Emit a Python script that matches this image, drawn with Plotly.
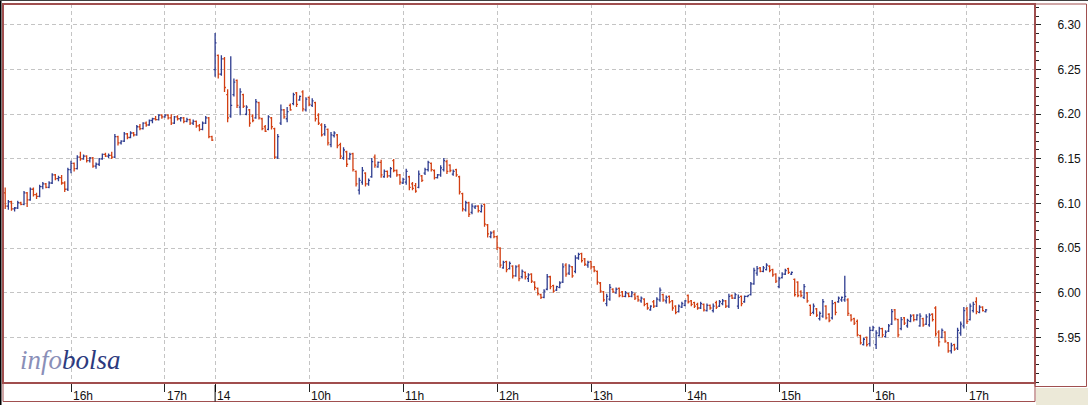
import plotly.graph_objects as go

# Two sessions of 2-minute bars: the tail of the 13th and the 14th (9:00 - 17:12)
BAR_MINUTES = 2

day1_start = "15:18"
day1_open = [6.112, 6.097, 6.102, 6.094, 6.095, 6.101, 6.099, 6.112, 6.104, 6.116,
             6.110, 6.108, 6.119, 6.122, 6.118, 6.123, 6.132, 6.128, 6.129, 6.123,
             6.116, 6.138, 6.145, 6.139, 6.152, 6.150, 6.153, 6.148, 6.151, 6.142,
             6.144, 6.150, 6.155, 6.153, 6.154, 6.152, 6.175, 6.168, 6.170, 6.178,
             6.174, 6.179, 6.177, 6.186, 6.184, 6.190, 6.188, 6.193, 6.195, 6.194,
             6.199, 6.197, 6.199, 6.196, 6.190, 6.197, 6.195, 6.196, 6.192, 6.194,
             6.190, 6.192, 6.187, 6.183, 6.190, 6.196, 6.175]
day1_high = [6.118, 6.104, 6.103, 6.096, 6.103, 6.102, 6.114, 6.113, 6.118, 6.118,
             6.112, 6.121, 6.124, 6.123, 6.125, 6.134, 6.133, 6.131, 6.132, 6.125,
             6.140, 6.148, 6.146, 6.154, 6.158, 6.155, 6.154, 6.152, 6.152, 6.146,
             6.151, 6.156, 6.157, 6.156, 6.158, 6.178, 6.176, 6.171, 6.180, 6.179,
             6.181, 6.180, 6.188, 6.189, 6.191, 6.192, 6.194, 6.196, 6.198, 6.200,
             6.200, 6.200, 6.200, 6.200, 6.198, 6.199, 6.197, 6.197, 6.196, 6.195,
             6.194, 6.193, 6.189, 6.192, 6.198, 6.197, 6.176]
day1_low = [6.094, 6.093, 6.092, 6.091, 6.094, 6.098, 6.098, 6.096, 6.103, 6.108,
            6.105, 6.107, 6.116, 6.117, 6.117, 6.122, 6.126, 6.125, 6.121, 6.113,
            6.114, 6.134, 6.136, 6.138, 6.148, 6.149, 6.146, 6.146, 6.140, 6.139,
            6.142, 6.149, 6.152, 6.151, 6.150, 6.151, 6.165, 6.166, 6.169, 6.172,
            6.173, 6.175, 6.176, 6.182, 6.183, 6.186, 6.187, 6.190, 6.193, 6.193,
            6.195, 6.196, 6.194, 6.188, 6.189, 6.193, 6.192, 6.190, 6.191, 6.188,
            6.188, 6.185, 6.181, 6.182, 6.189, 6.173, 6.170]
day1_close = [6.097, 6.102, 6.094, 6.095, 6.101, 6.099, 6.112, 6.104, 6.116, 6.110,
              6.108, 6.119, 6.122, 6.118, 6.123, 6.132, 6.128, 6.129, 6.123, 6.116,
              6.138, 6.145, 6.139, 6.152, 6.150, 6.153, 6.148, 6.151, 6.142, 6.144,
              6.150, 6.155, 6.153, 6.154, 6.152, 6.175, 6.168, 6.170, 6.178, 6.174,
              6.179, 6.177, 6.186, 6.184, 6.190, 6.188, 6.193, 6.195, 6.194, 6.199,
              6.197, 6.199, 6.196, 6.190, 6.197, 6.195, 6.196, 6.192, 6.194, 6.190,
              6.192, 6.187, 6.183, 6.190, 6.196, 6.175, 6.171]

day2_start = "09:00"
day2_open = [6.250, 6.266, 6.245, 6.262, 6.222, 6.198, 6.222, 6.238, 6.208, 6.222,
             6.200, 6.205, 6.198, 6.196, 6.213, 6.195, 6.186, 6.183, 6.196, 6.184,
             6.152, 6.190, 6.205, 6.195, 6.210, 6.212, 6.224, 6.216, 6.225, 6.205,
             6.219, 6.210, 6.213, 6.199, 6.188, 6.178, 6.183, 6.166, 6.176, 6.177,
             6.166, 6.151, 6.158, 6.150, 6.156, 6.136, 6.115, 6.124, 6.134, 6.122,
             6.130, 6.152, 6.141, 6.146, 6.130, 6.136, 6.131, 6.148, 6.137, 6.132,
             6.123, 6.124, 6.130, 6.122, 6.120, 6.118, 6.131, 6.134, 6.138, 6.145,
             6.137, 6.129, 6.132, 6.138, 6.147, 6.143, 6.133, 6.138, 6.130, 6.111,
             6.093, 6.101, 6.090, 6.096, 6.097, 6.091, 6.099, 6.076, 6.063, 6.068,
             6.063, 6.050, 6.028, 6.035, 6.027, 6.030, 6.019, 6.030, 6.018, 6.023,
             6.016, 6.021, 6.012, 6.005, 5.998, 5.995, 6.004, 6.018, 6.008, 6.003,
             6.006, 6.012, 6.031, 6.022, 6.029, 6.024, 6.039, 6.044, 6.038, 6.031,
             6.035, 6.029, 6.024, 6.011, 6.001, 5.988, 5.993, 6.004, 6.000, 6.005,
             6.001, 5.996, 5.999, 5.996, 5.998, 5.996, 5.991, 5.993, 5.988, 5.981,
             5.990, 5.985, 5.992, 5.998, 5.991, 5.996, 5.991, 5.985, 5.979, 5.984,
             5.986, 5.997, 5.991, 5.989, 5.987, 5.983, 5.987, 5.980, 5.986, 5.980,
             5.989, 5.985, 5.988, 5.991, 5.985, 5.997, 5.994, 5.985, 5.996, 5.990,
             5.996, 5.998, 6.010, 6.022, 6.028, 6.024, 6.026, 6.030, 6.026, 6.021,
             6.007, 6.017, 6.021, 6.027, 6.021, 6.015, 6.012, 6.001, 5.995, 6.000,
             5.986, 5.978, 5.982, 5.971, 5.974, 5.985, 5.976, 5.972, 5.989, 5.990,
             5.992, 5.992, 5.992, 5.975, 5.971, 5.968, 5.952, 5.942, 5.950, 5.943,
             5.958, 5.942, 5.952, 5.960, 5.951, 5.957, 5.965, 5.981, 5.970, 5.960,
             5.972, 5.963, 5.968, 5.975, 5.970, 5.963, 5.971, 5.965, 5.964, 5.976,
             5.983, 5.956, 5.950, 5.956, 5.944, 5.935, 5.942, 5.938, 5.955, 5.963,
             5.982, 5.970, 5.980, 5.990, 5.978, 5.984, 5.979]
day2_high = [6.291, 6.267, 6.266, 6.264, 6.228, 6.265, 6.240, 6.239, 6.229, 6.223,
             6.210, 6.206, 6.200, 6.217, 6.214, 6.196, 6.188, 6.199, 6.197, 6.185,
             6.178, 6.211, 6.206, 6.208, 6.212, 6.224, 6.225, 6.221, 6.227, 6.219,
             6.220, 6.218, 6.214, 6.201, 6.190, 6.189, 6.184, 6.180, 6.181, 6.178,
             6.168, 6.163, 6.159, 6.157, 6.157, 6.137, 6.129, 6.141, 6.135, 6.128,
             6.151, 6.155, 6.147, 6.149, 6.138, 6.137, 6.141, 6.150, 6.138, 6.133,
             6.129, 6.139, 6.131, 6.124, 6.123, 6.137, 6.132, 6.140, 6.148, 6.146,
             6.138, 6.133, 6.143, 6.151, 6.149, 6.144, 6.138, 6.139, 6.131, 6.112,
             6.103, 6.102, 6.100, 6.098, 6.098, 6.099, 6.100, 6.077, 6.069, 6.070,
             6.064, 6.051, 6.036, 6.036, 6.035, 6.031, 6.031, 6.032, 6.026, 6.024,
             6.022, 6.022, 6.013, 6.006, 5.999, 6.004, 6.021, 6.019, 6.009, 6.008,
             6.013, 6.033, 6.033, 6.032, 6.030, 6.042, 6.045, 6.045, 6.039, 6.036,
             6.036, 6.030, 6.025, 6.012, 6.002, 5.999, 6.010, 6.005, 6.006, 6.006,
             6.002, 6.002, 6.000, 6.002, 6.000, 5.997, 5.996, 5.994, 5.989, 5.986,
             5.992, 5.995, 6.006, 5.999, 5.997, 5.997, 5.992, 5.986, 5.987, 5.990,
             5.992, 5.998, 5.992, 5.990, 5.989, 5.990, 5.988, 5.988, 5.987, 5.988,
             5.991, 5.992, 5.993, 5.992, 5.999, 5.998, 6.000, 5.998, 5.997, 5.997,
             5.997, 6.012, 6.028, 6.030, 6.029, 6.030, 6.033, 6.031, 6.027, 6.022,
             6.018, 6.023, 6.027, 6.028, 6.024, 6.016, 6.013, 6.003, 6.010, 6.001,
             5.987, 5.988, 5.983, 5.979, 5.993, 5.986, 5.977, 5.992, 5.990, 5.996,
             5.996, 6.019, 5.994, 5.976, 5.972, 5.970, 5.953, 5.950, 5.951, 5.962,
             5.963, 5.958, 5.962, 5.961, 5.958, 5.965, 5.982, 5.982, 5.971, 5.973,
             5.973, 5.971, 5.976, 5.976, 5.976, 5.977, 5.972, 5.976, 5.977, 5.977,
             5.985, 5.958, 5.960, 5.957, 5.945, 5.944, 5.943, 5.961, 5.968, 5.984,
             5.984, 5.988, 5.990, 5.995, 5.986, 5.985, 5.982]
day2_low = [6.242, 6.240, 6.243, 6.225, 6.191, 6.196, 6.220, 6.207, 6.199, 6.207,
            6.199, 6.186, 6.191, 6.195, 6.194, 6.182, 6.180, 6.182, 6.183, 6.150,
            6.150, 6.188, 6.195, 6.191, 6.204, 6.210, 6.208, 6.215, 6.203, 6.203,
            6.209, 6.208, 6.192, 6.188, 6.175, 6.176, 6.165, 6.163, 6.174, 6.162,
            6.150, 6.149, 6.141, 6.149, 6.136, 6.119, 6.110, 6.121, 6.119, 6.120,
            6.129, 6.140, 6.140, 6.129, 6.129, 6.129, 6.129, 6.135, 6.130, 6.121,
            6.122, 6.121, 6.115, 6.115, 6.112, 6.117, 6.124, 6.132, 6.136, 6.136,
            6.127, 6.128, 6.130, 6.136, 6.133, 6.135, 6.131, 6.130, 6.110, 6.091,
            6.091, 6.085, 6.088, 6.094, 6.090, 6.090, 6.074, 6.062, 6.061, 6.061,
            6.048, 6.028, 6.027, 6.023, 6.026, 6.016, 6.018, 6.013, 6.016, 6.015,
            6.012, 6.011, 6.003, 5.997, 5.993, 5.994, 6.003, 6.004, 6.000, 6.002,
            6.005, 6.011, 6.018, 6.020, 6.017, 6.022, 6.037, 6.034, 6.030, 6.028,
            6.026, 6.023, 6.009, 6.000, 5.990, 5.985, 5.991, 6.000, 5.999, 5.995,
            5.995, 5.995, 5.995, 5.995, 5.992, 5.990, 5.989, 5.985, 5.981, 5.980,
            5.983, 5.984, 5.990, 5.990, 5.988, 5.988, 5.980, 5.976, 5.978, 5.983,
            5.985, 5.988, 5.985, 5.983, 5.981, 5.982, 5.979, 5.979, 5.981, 5.978,
            5.982, 5.984, 5.986, 5.983, 5.983, 5.993, 5.993, 5.982, 5.985, 5.989,
            5.995, 5.997, 6.009, 6.019, 6.023, 6.023, 6.025, 6.023, 6.018, 6.011,
            6.005, 6.016, 6.020, 6.021, 6.020, 5.996, 5.995, 5.995, 5.993, 5.989,
            5.974, 5.976, 5.973, 5.969, 5.972, 5.970, 5.967, 5.970, 5.975, 5.989,
            5.990, 5.990, 5.974, 5.968, 5.964, 5.951, 5.942, 5.941, 5.940, 5.940,
            5.957, 5.937, 5.951, 5.950, 5.950, 5.956, 5.964, 5.969, 5.950, 5.958,
            5.964, 5.961, 5.967, 5.968, 5.969, 5.962, 5.962, 5.964, 5.962, 5.968,
            5.951, 5.940, 5.949, 5.944, 5.933, 5.932, 5.935, 5.936, 5.952, 5.960,
            5.965, 5.969, 5.978, 5.976, 5.977, 5.979, 5.978]
day2_close = [6.280, 6.245, 6.262, 6.230, 6.196, 6.210, 6.236, 6.210, 6.225, 6.209,
              6.208, 6.190, 6.193, 6.214, 6.196, 6.184, 6.181, 6.197, 6.186, 6.152,
              6.175, 6.205, 6.197, 6.203, 6.205, 6.222, 6.211, 6.220, 6.206, 6.217,
              6.211, 6.215, 6.195, 6.190, 6.177, 6.186, 6.168, 6.177, 6.179, 6.165,
              6.153, 6.160, 6.144, 6.155, 6.138, 6.122, 6.126, 6.137, 6.122, 6.126,
              6.147, 6.143, 6.146, 6.132, 6.136, 6.131, 6.139, 6.137, 6.132, 6.124,
              6.127, 6.136, 6.118, 6.117, 6.114, 6.133, 6.126, 6.138, 6.146, 6.138,
              6.129, 6.132, 6.140, 6.148, 6.136, 6.137, 6.136, 6.132, 6.113, 6.094,
              6.101, 6.088, 6.097, 6.097, 6.092, 6.097, 6.077, 6.066, 6.067, 6.063,
              6.051, 6.031, 6.034, 6.026, 6.033, 6.019, 6.029, 6.016, 6.024, 6.018,
              6.020, 6.013, 6.006, 5.999, 5.995, 6.002, 6.018, 6.007, 6.002, 6.007,
              6.011, 6.029, 6.021, 6.030, 6.019, 6.039, 6.043, 6.036, 6.032, 6.034,
              6.029, 6.025, 6.012, 6.002, 5.992, 5.996, 6.006, 6.001, 6.004, 5.997,
              5.996, 6.000, 5.996, 6.000, 5.994, 5.992, 5.994, 5.987, 5.983, 5.985,
              5.985, 5.993, 6.003, 5.992, 5.995, 5.990, 5.983, 5.978, 5.985, 5.988,
              5.991, 5.990, 5.987, 5.985, 5.983, 5.988, 5.981, 5.986, 5.983, 5.985,
              5.984, 5.990, 5.991, 5.985, 5.996, 5.994, 5.998, 5.995, 5.988, 5.996,
              5.997, 6.010, 6.025, 6.027, 6.024, 6.028, 6.031, 6.025, 6.020, 6.013,
              6.016, 6.021, 6.025, 6.023, 6.023, 5.998, 5.997, 5.997, 6.007, 5.991,
              5.977, 5.985, 5.975, 5.977, 5.990, 5.972, 5.969, 5.988, 5.978, 5.994,
              5.995, 5.996, 5.977, 5.970, 5.966, 5.953, 5.944, 5.948, 5.942, 5.958,
              5.961, 5.955, 5.960, 5.953, 5.956, 5.963, 5.979, 5.971, 5.953, 5.970,
              5.966, 5.969, 5.974, 5.970, 5.975, 5.974, 5.964, 5.973, 5.975, 5.970,
              5.954, 5.945, 5.958, 5.946, 5.935, 5.941, 5.937, 5.958, 5.965, 5.980,
              5.968, 5.985, 5.987, 5.979, 5.984, 5.980, 5.981]

# x axis ticks: (session day, time) and their labels
tick_days = [1, 1, 2, 2, 2, 2, 2, 2, 2, 2, 2]
tick_times = ["16:00", "17:00", "09:00", "10:00", "11:00", "12:00",
              "13:00", "14:00", "15:00", "16:00", "17:00"]
tick_labels = ["16h", "17h", "14", "10h", "11h", "12h", "13h", "14h", "15h", "16h", "17h"]

price_ticks = [5.95, 6.00, 6.05, 6.10, 6.15, 6.20, 6.25, 6.30]

UP_COLOR = "#2f3d90"
DOWN_COLOR = "#d23f12"
FRAME_COLOR = "#a04f4f"
GRID_COLOR = "#c4c4c4"

W, H = 1088, 405
M_L, M_R, M_T, M_B = 3, 53, 4, 22
PX_PER_MIN = 1.5664


def session_x(day, hhmm):
    """ Minutes on a trading-time axis: day 1 counts from 15:00, day 2 opens right after day 1 closes """
    h, m = map(int, hhmm.split(":"))
    if day == 1:
        return h * 60 + m - 15 * 60
    return 152 + h * 60 + m - 9 * 60


def px_x(px):
    return (px - M_L) / (W - M_L - M_R)


def px_y(py):
    return (H - M_B - py) / (H - M_T - M_B)


x1 = [session_x(1, day1_start) + BAR_MINUTES * i for i in range(len(day1_close))]
x2 = [session_x(2, day2_start) + BAR_MINUTES * i for i in range(len(day2_close))]
tick_x = [session_x(d, t) for d, t in zip(tick_days, tick_times)]

x_lo = tick_x[0] - (71 - M_L) / PX_PER_MIN
x_hi = x_lo + (W - M_L - M_R) / PX_PER_MIN

fig = go.Figure(
    go.Ohlc(
        x=x1 + x2,
        open=day1_open + day2_open,
        high=day1_high + day2_high,
        low=day1_low + day2_low,
        close=day1_close + day2_close,
        increasing=dict(line=dict(color=UP_COLOR, width=1.3)),
        decreasing=dict(line=dict(color=DOWN_COLOR, width=1.3)),
        tickwidth=0.45,
        hoverinfo="skip",
        showlegend=False,
    )
)

shapes = [
    # beige corner under the price panel
    dict(type="rect", xref="paper", yref="paper", x0=px_x(1036), x1=px_x(1089),
         y0=px_y(406), y1=px_y(388), fillcolor="#ece9d8", line=dict(width=0), layer="below"),
    # plot frame, price panel, time strip
    dict(type="rect", xref="paper", yref="paper", x0=0, x1=1, y0=0, y1=1,
         line=dict(color=FRAME_COLOR, width=2)),
    dict(type="rect", xref="paper", yref="paper", x0=1, x1=px_x(1086.5),
         y0=px_y(386.5), y1=1, line=dict(color=FRAME_COLOR, width=1)),
    dict(type="rect", xref="paper", yref="paper", x0=0, x1=1,
         y0=px_y(401.5), y1=0, line=dict(color=FRAME_COLOR, width=1)),
    # window edges
    dict(type="line", xref="paper", yref="paper", x0=px_x(0.5), x1=px_x(0.5),
         y0=px_y(405), y1=px_y(0), line=dict(color="#000000", width=2)),
    dict(type="line", xref="paper", yref="paper", x0=px_x(0), x1=px_x(1088),
         y0=px_y(0.5), y1=px_y(0.5), line=dict(color="#404040", width=1)),
    # day separator tick
    dict(type="line", xref="x", yref="paper", x0=tick_x[2], x1=tick_x[2],
         y0=px_y(385), y1=px_y(401.5), line=dict(color="#000000", width=1)),
]

annotations = [
    dict(x=tx, y=px_y(395.5), xref="x", yref="paper", text=lab, showarrow=False,
         xanchor="left", yanchor="middle", xshift=0,
         font=dict(family="Liberation Sans, Arial, sans-serif", size=12, color="#111111"))
    for tx, lab in zip(tick_x, tick_labels)
]
annotations.append(dict(
    x=px_x(18), y=px_y(360), xref="paper", yref="paper", showarrow=False,
    xanchor="left", yanchor="middle",
    text="<i><span style='color:#8a8fb8'>info</span><span style='color:#2c3a7e'>bolsa</span></i>",
    font=dict(family="Liberation Serif, Times New Roman, serif", size=27),
))

fig.update_layout(
    width=W, height=H,
    margin=dict(l=M_L, r=M_R, t=M_T, b=M_B, autoexpand=False),
    paper_bgcolor="white",
    plot_bgcolor="white",
    font=dict(family="Liberation Sans, Arial, sans-serif", size=12, color="#111111"),
    xaxis=dict(
        range=[x_lo, x_hi],
        tickmode="array", tickvals=tick_x, showticklabels=False,
        ticks="outside", ticklen=8, tickcolor="#222222", tickwidth=1,
        showgrid=True, gridcolor=GRID_COLOR, griddash="4px,3px", gridwidth=1,
        zeroline=False, showline=False,
        rangeslider=dict(visible=False),
        fixedrange=True,
    ),
    yaxis=dict(
        side="right",
        range=[5.899, 6.3235],
        tickmode="array", tickvals=price_ticks,
        ticktext=[f"{v:.2f}" for v in price_ticks],
        ticks="outside", ticklen=5, tickcolor="#222222", tickwidth=1,
        ticklabelstandoff=14,
        minor=dict(tickmode="linear", tick0=5.90, dtick=0.01, ticks="outside",
                   ticklen=3, tickcolor="#222222", showgrid=False),
        showgrid=True, gridcolor=GRID_COLOR, griddash="4px,3px", gridwidth=1,
        zeroline=False, showline=False,
        tickfont=dict(family="Liberation Sans, Arial, sans-serif", size=12, color="#111111"),
        fixedrange=True,
    ),
    shapes=shapes,
    annotations=annotations,
)

# the page body keeps its default 8px margin otherwise, which shifts the whole chart
fig.write_html(
    "out.html",
    config={"displayModeBar": False, "staticPlot": True},
    post_script="document.body.style.margin='0';document.body.style.overflow='hidden';",
)
